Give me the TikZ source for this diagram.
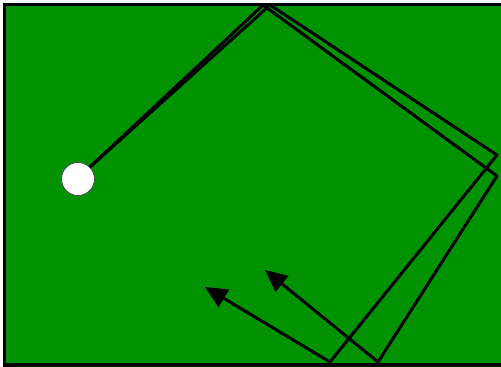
\documentclass[tikz,border=0pt]{standalone}
\usetikzlibrary{arrows.meta}
\definecolor{field}{RGB}{0,146,0}
\begin{document}
\begin{tikzpicture}[x=1pt,y=-1pt,
  track/.style={draw=black,line width=3pt,line join=round,
    -{Triangle[length=22pt,width=20pt]}},
  ballstyle/.style={circle,fill=white,draw=black!70,line width=0.8pt,
    minimum size=33pt,inner sep=0pt}]
\useasboundingbox (0,0) rectangle (501,367);
\fill[white] (0,0) rectangle (501,367);
\fill[black] (3,3) rectangle (501,367);
\fill[field] (6,6) rectangle (501,363);
\node[ballstyle] (ball) at (78,179) {};
\coordinate (a1) at (263,5);
\coordinate (a2) at (497,176);
\coordinate (a3) at (378,362);
\coordinate (atip) at (265,270);
\coordinate (b1) at (270,5);
\coordinate (b2) at (497,155);
\coordinate (b3) at (330,362);
\coordinate (btip) at (205,287);
\draw[track] (ball.45) -- (a1) -- (a2) -- (a3) -- (atip);
\draw[track] (ball.45) -- (b1) -- (b2) -- (b3) -- (btip);
\end{tikzpicture}
\end{document}
